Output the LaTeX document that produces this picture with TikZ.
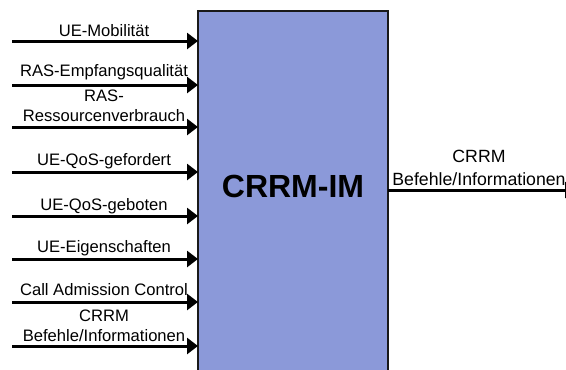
\documentclass[tikz,border=0pt]{standalone}
\usepackage{fontspec}
\setmainfont{Liberation Sans}
\usetikzlibrary{arrows.meta}
\definecolor{boxblue}{RGB}{139,153,217}
\tikzset{
  imbox/.style={draw=black!90, line width=2pt, fill=boxblue, inner sep=0pt, outer sep=0pt},
  sig/.style={line width=3pt, -{Triangle[length=11pt,width=16pt]}},
  inlabel/.style={inner sep=0pt, anchor=base, align=center, font=\fontsize{16.6}{19.5}\selectfont},
  outlabel/.style={inner sep=0pt, anchor=base, align=center, font=\fontsize{17.7}{23}\selectfont},
}
\begin{document}
\begin{tikzpicture}[x=1pt, y=-1pt]
\useasboundingbox (0,0) rectangle (566,370);

% central function block, running past the lower edge
\node[imbox, anchor=north west, minimum width=190pt, minimum height=380pt] (im) at (198,11) {};
\node[inner sep=0pt, font=\fontsize{32}{36}\selectfont\bfseries] (imlabel) at (293,186) {CRRM-IM};

% input signals
\coordinate (s1) at (12,41);
\coordinate (s2) at (12,85);
\coordinate (s3) at (12,127);
\coordinate (s4) at (12,172);
\coordinate (s5) at (12,216);
\coordinate (s6) at (12,259);
\coordinate (s7) at (12,302);
\coordinate (s8) at (12,346);
\foreach \s in {1,...,8} \draw[sig] (s\s) -- (s\s -| im.west);

% labels sit on the baseline of their last line
\node[inlabel] (l1) at (104,36) {UE-Mobilität};
\node[inlabel] (l2) at (104,76) {RAS-Empfangsqualität};
\node[inlabel] (l3) at (104,121) {RAS-\\Ressourcenverbrauch};
\node[inlabel] (l4) at (104,165) {UE-QoS-gefordert};
\node[inlabel] (l5) at (104,210) {UE-QoS-geboten};
\node[inlabel] (l6) at (104,252) {UE-Eigenschaften};
\node[inlabel] (l7) at (104,295) {Call Admission Control};
\node[inlabel] (l8) at (104,341) {CRRM\\Befehle/Informationen};

% output signal
\coordinate (out) at (576,190);
\draw[sig] (out -| im.east) -- (out);
\node[outlabel] (lo) at (479,185) {CRRM\\Befehle/Informationen};
\end{tikzpicture}
\end{document}
